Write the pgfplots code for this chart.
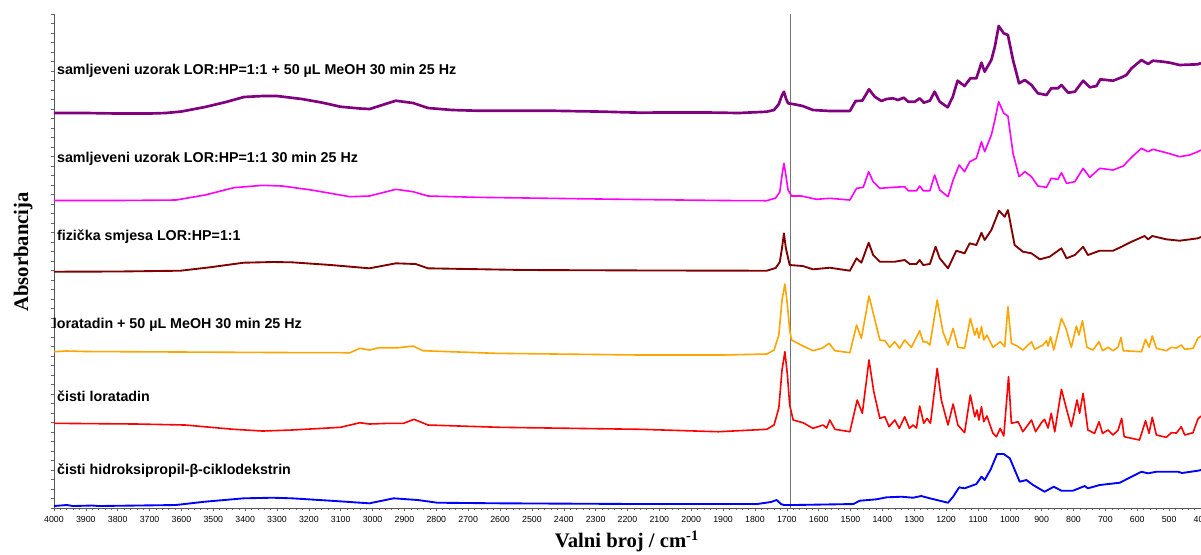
\documentclass[border=0pt]{standalone}
\usepackage{pgfplots}
\pgfplotsset{compat=1.18}
\usepackage{fontspec}
\setmainfont{Liberation Sans}
\newfontfamily\serifb{Liberation Serif}
\definecolor{cpurple}{HTML}{800080}
\definecolor{cmagenta}{HTML}{FF00FF}
\definecolor{cbrown}{HTML}{800000}
\definecolor{corange}{HTML}{FFA500}
\definecolor{cred}{HTML}{FF0000}
\definecolor{cblue}{HTML}{0000FF}
\begin{document}
\begin{tikzpicture}
\begin{axis}[
 scale only axis, width=860.25pt, height=370.5pt,
 xmin=400, xmax=4000, x dir=reverse,
 ymin=14, ymax=508, y dir=reverse,
 axis x line*=bottom, axis y line*=left,
 axis line style={-, black!65, line width=0.6pt},
 xtick={400,500,...,4000}, minor x tick num=4,
 ytick={14,23.5,...,508}, yticklabels={},
 tick align=outside, major tick length=2.5pt, minor tick length=1.5pt,
 tick style={black!60, line width=0.4pt},
 xticklabel style={font=\fontsize{6.6}{7.5}\selectfont},
 /pgf/number format/assume math mode=true,
 /pgf/number format/1000 sep={},
 clip=false,
 every axis plot/.append style={line join=round, mark=none},
]
\coordinate (BL) at (axis cs:4000,508);
\coordinate (TR) at (axis cs:400,14);
\draw[black!55, line width=0.75pt] (axis cs:1687,14) -- (axis cs:1687,508);

% purple
\addplot[cpurple, line width=2pt] coordinates {(4000,113)(3900,113)(3800,113.5)(3700,113.5)(3649,113)(3600,111.5)(3526,107)(3460,102)(3404,97)(3345,96)(3300,96)(3222,99)(3160,102.5)(3101,106.7)(3040,108.5)(3009,109)(2960,104)(2927,100.7)(2873,103)(2826,108)(2750,110)(2675,110.7)(2447,110.7)(2300,111.5)(2158,112.7)(2100,112.5)(1950,112.5)(1850,113)(1763,111.7)(1740,110)(1725,104)(1716,96)(1709,91.7)(1702,99)(1696,103.3)(1681,104)(1650,106)(1618,110)(1565,111)(1502,111)(1484,101)(1463,100.7)(1442,89.3)(1424,96.7)(1403,101)(1387,99)(1367,98.3)(1351,100)(1333,97.7)(1319,101.7)(1298,101.7)(1283,98.3)(1270,102.7)(1251,100.7)(1236,91.7)(1220,101.7)(1195,107.3)(1179,96.7)(1164,80.7)(1142,86)(1124,78.3)(1105,78.3)(1089,62.7)(1079,71.7)(1058,60)(1047,46.7)(1035,26)(1019,33.3)(1006,35)(990,60)(971,83.3)(953,80)(932,85)(912,93.3)(885,95)(870,88.3)(849,88.3)(838,85)(817,92.7)(796,91.7)(770,80.7)(749,87.3)(728,86)(716,79.3)(676,80.7)(649,77.3)(634,75)(618,68.3)(587,60)(566,64)(551,60.7)(519,61.7)(498,62.7)(467,65)(410,64.3)(400,63)};

% magenta
\addplot[cmagenta, line width=1.2pt] coordinates {(4000,200.5)(3800,200.5)(3617,200)(3526,195)(3436,187.7)(3345,185.3)(3284,186)(3192,190)(3071,196.7)(3010,196)(2927,189.3)(2873,191.7)(2826,196)(2675,197.3)(2219,199.3)(1900,200.5)(1763,200.7)(1735,198)(1722,192)(1715,175)(1709,163.3)(1703,175)(1696,190)(1685,196)(1654,196)(1607,199.3)(1565,198.3)(1502,200)(1481,188.3)(1460,187.3)(1443,171.7)(1429,181.7)(1408,188.3)(1366,187.3)(1330,186.7)(1319,190.7)(1293,190.7)(1283,186)(1272,190.7)(1251,190.7)(1236,175)(1220,190)(1194,196.7)(1178,180)(1159,165)(1142,171.7)(1126,161.7)(1105,158.3)(1089,141.7)(1079,151.7)(1058,135)(1047,120)(1035,101.7)(1019,113.3)(1006,116)(1000,130)(990,153.3)(971,176.7)(953,171.7)(932,176.7)(912,186)(885,187.3)(870,178.3)(849,179.3)(838,172.7)(822,183.3)(796,181.7)(770,168.3)(749,177.3)(718,168.3)(676,170)(644,166)(618,157.3)(587,148.3)(566,151.7)(551,149.3)(509,152.7)(467,156.7)(436,155)(410,151.7)(400,150)};

% brown
\addplot[cbrown, line width=1.4pt] coordinates {(4000,271.7)(3800,271.5)(3603,270.7)(3511,267.3)(3405,262.7)(3314,262)(3253,262.3)(3131,265)(3010,268.3)(2927,263.3)(2865,264)(2826,268.3)(2523,270)(2100,270.5)(1763,270.7)(1735,268)(1722,262)(1715,248)(1709,233.3)(1703,248)(1691,265)(1650,266)(1618,269.3)(1565,267.7)(1502,270.7)(1481,258.3)(1466,262.7)(1443,242.7)(1429,255)(1408,261.7)(1361,261.7)(1330,260)(1314,264)(1293,264)(1283,260)(1272,265)(1251,264)(1233,246.7)(1220,258.3)(1194,268.3)(1168,250.7)(1142,253.3)(1126,243.3)(1105,245)(1089,232.7)(1079,240)(1058,230)(1034,210.7)(1016,216.7)(1006,210)(998,223.3)(985,245)(959,251.7)(932,253.3)(906,259.3)(875,256.7)(838,248.3)(822,258.3)(796,255)(770,246.7)(755,255)(718,250.7)(676,250.7)(649,246.7)(618,241.7)(577,236)(566,239.3)(553,236)(509,239.3)(467,240.7)(410,238.3)(400,237)};

% orange
\addplot[corange, line width=1.2pt] coordinates {(4000,351.7)(3960,351)(3900,351.5)(3600,352)(3300,352.5)(3071,352.7)(3040,348.3)(3010,350)(2980,347.7)(2918,347.7)(2873,346)(2842,350.7)(2614,353.3)(2158,355)(1900,355)(1763,354)(1740,350)(1725,335)(1715,300)(1706,284)(1698,305)(1691,330)(1685,340)(1649,346)(1618,350.7)(1588,348)(1567,343.3)(1549,350.7)(1502,352.7)(1481,325)(1466,338.3)(1442,296)(1424,319.3)(1408,340)(1392,340.7)(1377,347.3)(1361,341.7)(1346,348.3)(1330,340)(1309,347.3)(1283,330.7)(1272,342)(1262,341.7)(1251,345)(1228,300)(1210,331.7)(1194,345)(1178,328.3)(1163,347.3)(1142,348.3)(1124,318.3)(1110,335)(1103,328.3)(1097,338)(1089,326.7)(1082,340)(1072,335)(1053,347.3)(1030,341.7)(1016,346.7)(1006,306.7)(995,343.3)(977,346)(959,350)(932,341.7)(922,349.3)(896,345)(885,340.7)(880,346)(872,336.7)(862,350)(838,318.3)(824,328.3)(807,347.3)(791,326)(783,335)(772,320.7)(758,347.3)(739,350)(720,341.7)(709,350.7)(692,347.3)(676,350.7)(660,347)(651,337.3)(644,350.7)(587,351.7)(574,339.3)(563,347.3)(553,336)(540,348.3)(509,350.7)(493,347.3)(477,348)(462,345)(451,349.3)(425,348.3)(410,338.3)(400,336)};

% red
\addplot[cred, line width=1.2pt] coordinates {(4000,423.3)(3740,424)(3588,425)(3436,429.3)(3345,431)(3253,430)(3101,427.3)(3040,422.7)(3010,424)(2949,423.3)(2903,423.3)(2870,419.3)(2826,425)(2599,427.3)(2158,429.3)(1915,431.7)(1763,429.3)(1740,425)(1725,408)(1715,370)(1706,351.7)(1698,375)(1691,405)(1680,420)(1649,422.7)(1618,428.3)(1586,425)(1575,428)(1565,420)(1549,429.3)(1502,431.7)(1479,400)(1463,413.3)(1442,360)(1427,391.7)(1408,418.3)(1392,416.7)(1379,426.7)(1361,420)(1347,428.3)(1330,416.7)(1315,428.3)(1304,425)(1293,428)(1283,406)(1270,423.3)(1260,418.3)(1249,423.3)(1228,368.3)(1215,400)(1194,425)(1178,404)(1163,425)(1142,432.7)(1124,395)(1110,416.7)(1103,410)(1097,420)(1089,406.7)(1082,421.7)(1072,416)(1053,433.3)(1042,436.7)(1030,428.3)(1019,436)(1004,376.7)(995,423.3)(974,421.7)(959,431.7)(932,420)(919,431.7)(901,422.7)(891,419.3)(880,428)(870,413.3)(859,431.7)(838,389.3)(824,406.7)(807,426.7)(789,400)(781,413.3)(770,393.3)(755,430)(734,433.3)(720,421.7)(709,433.3)(692,430)(676,435)(660,430)(649,418.3)(641,436.7)(593,440)(574,420.7)(563,433.3)(553,417.3)(540,435)(509,437.3)(493,432.7)(477,433)(462,426.7)(451,435)(425,432.7)(410,419.3)(400,416)};

% blue
\addplot[cblue, line width=1.4pt] coordinates {(4000,506)(3960,505)(3940,506)(3880,505.5)(3860,506)(3618,505)(3527,501.7)(3405,498.3)(3314,497.7)(3253,498.3)(3131,500.7)(3010,503.3)(2934,498.3)(2858,500)(2797,502.7)(2599,503.3)(2158,504)(1793,504)(1750,502)(1732,500)(1718,504)(1709,505)(1680,505)(1491,504)(1471,500.7)(1419,499.3)(1387,497.3)(1340,496.7)(1304,497.7)(1278,496)(1251,498.3)(1220,500.7)(1194,502.7)(1178,496.7)(1159,487.3)(1142,488.3)(1105,484)(1089,476.7)(1079,480)(1060,469.3)(1040,454)(1019,454)(1000,458.3)(969,481.7)(948,480)(927,485)(891,491.7)(862,486.7)(838,490.7)(802,490.7)(765,486)(755,488.3)(718,485)(655,482.7)(618,476.7)(587,471.7)(566,473.3)(540,471.7)(472,471.7)(460,473)(410,470.7)(400,470)};

\begin{scope}[every node/.style={anchor=west, inner sep=0pt, font=\bfseries\fontsize{10.7}{12}\selectfont}]
\node at (axis cs:3991,70.7) {samljeveni uzorak LOR:HP=1:1 + 50 µL MeOH 30 min 25 Hz};
\node at (axis cs:3991,159) {samljeveni uzorak LOR:HP=1:1 30 min 25 Hz};
\node at (axis cs:3991,236.5) {fizička smjesa LOR:HP=1:1};
\node at (axis cs:4004,325) {loratadin + 50 µL MeOH 30 min 25 Hz};
\node at (axis cs:3991,396.5) {čisti loratadin};
\node at (axis cs:3991,471) {čisti hidroksipropil-β-ciklodekstrin};
\end{scope}
\node[font=\serifb\bfseries\fontsize{15.5}{18}\selectfont] at (axis cs:2202,541.5) {Valni broj / cm\textsuperscript{-1}};
\node[font=\serifb\bfseries\fontsize{15.5}{18}\selectfont, rotate=90] at (axis cs:4097,252) {Absorbancija};
\end{axis}
\pgfresetboundingbox
\path[use as bounding box] ([shift={(-40.5pt,-34.5pt)}]BL) rectangle ([shift={(0pt,10.5pt)}]TR);
\end{tikzpicture}
\end{document}
